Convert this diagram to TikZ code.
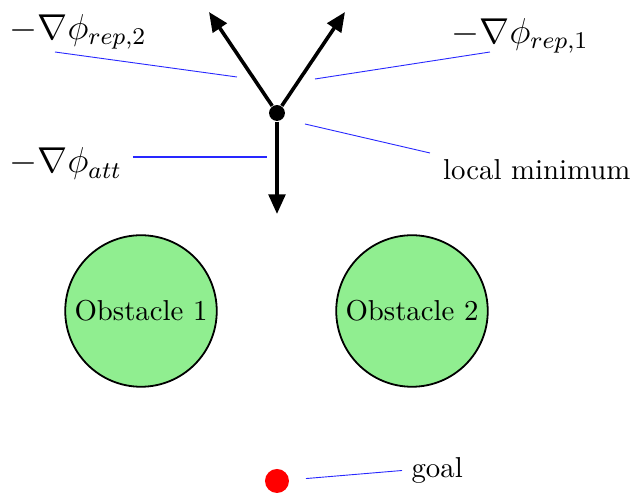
\documentclass[tikz,border=0pt]{standalone}
\usepackage{tikz}
\usetikzlibrary{arrows.meta, positioning}
\definecolor{ObstGreen}{RGB}{144, 238, 144}
\definecolor{PtrBlue}{RGB}{40, 40, 255}
\tikzset{
  obst/.style={circle, draw=black, semithick, fill=ObstGreen,
               minimum size=50.5pt, inner sep=0pt, font=\txtsize},
  force/.style={-{Triangle[length=6.5pt, width=5.5pt]}, very thick},
  pointer/.style={draw=PtrBlue, line width=0.3pt},
  lbl/.style={inner sep=1pt, font=\large},
  txt/.style={inner sep=1pt, font=\txtsize},
}
\newcommand{\txtsize}{\fontsize{9.6}{11.5}\selectfont}
\begin{document}
\begin{tikzpicture}[x=0.3333pt, y=-0.3333pt]
  \useasboundingbox (0,0) rectangle (636,493);

  % robot at the local minimum
  \node[circle, fill=black, minimum size=5.3pt, inner sep=0pt] (robot) at (277,113) {};
  \coordinate (tiprep2) at (209,12);
  \coordinate (tiprep1) at (345,12);
  \coordinate (tipatt) at (277,214);
  \draw[force] (robot) -- (tiprep2);
  \draw[force] (robot) -- (tiprep1);
  \draw[force] (robot) -- (tipatt);

  % obstacles and goal
  \node[obst] (obs1) at (141,311) {Obstacle 1};
  \node[obst] (obs2) at (412,311) {Obstacle 2};
  \node[circle, fill=red, minimum size=8pt, inner sep=0pt] (goal) at (277,481) {};

  % labels
  \node[lbl, anchor=west] (rep2lbl) at (6,32) {$-\nabla\phi_{rep,2}$};
  \node[lbl, anchor=west] (rep1lbl) at (448,36) {$-\nabla\phi_{rep,1}$};
  \node[lbl, anchor=west] (attlbl) at (6,164) {$-\nabla\phi_{att}$};
  \node[txt, anchor=east] (minlbl) at (634,170) {local minimum};
  \node[txt, anchor=west] (goallbl) at (408,470) {goal};

  % pointer lines
  \coordinate (rep2from) at (55,52);
  \coordinate (rep2to) at (237,77);
  \coordinate (rep1from) at (490,52);
  \coordinate (rep1to) at (315,79);
  \coordinate (attfrom) at (133,157);
  \coordinate (attto) at (267,157);
  \coordinate (minfrom) at (430,153);
  \coordinate (minto) at (305,124);
  \draw[pointer] (rep2from) -- (rep2to);
  \draw[pointer] (rep1from) -- (rep1to);
  \draw[pointer, line width=0.4pt] (attfrom) -- (attto);
  \draw[pointer] (minfrom) -- (minto);
  \draw[pointer, shorten <=5.5pt, shorten >=2pt] (goal) -- (goallbl.west);
\end{tikzpicture}
\end{document}
